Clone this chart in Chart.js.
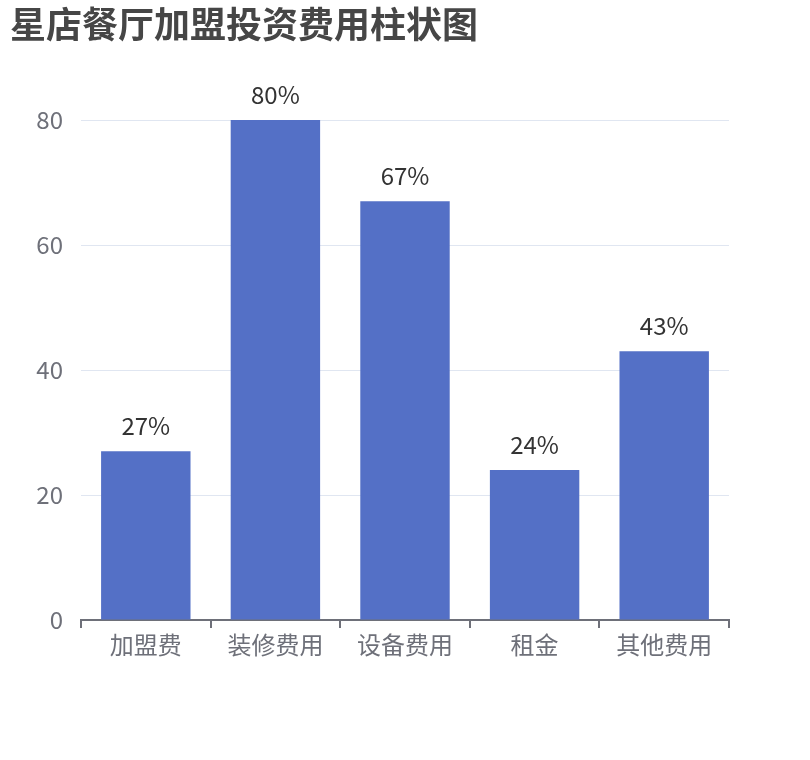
<!DOCTYPE html>
<html>
<head>
<meta charset="utf-8">
<script src="https://cdn.jsdelivr.net/npm/chart.js@4/dist/chart.umd.min.js"></script>
<style>
  html, body { margin: 0; padding: 0; background: #fff; }
  #wrap { width: 810px; height: 760px; }
</style>
</head>
<body>
<div id="wrap"><canvas id="bar-chart" width="810" height="760"></canvas></div>
<script>
// ── DATA ───────────────────────────────────────
const categories = ['加盟费', '装修费用', '设备费用', '租金', '其他费用'];
const percentValues = [27, 80, 67, 24, 43];
const yTicks = [0, 20, 40, 60, 80];
const chartTitle = '星店餐厅加盟投资费用柱状图';

const FONT = "'Noto Sans CJK SC', 'Noto Sans', sans-serif";
const AXIS_CLR = '#6E7079';

// Percent labels above each bar
const barLabels = {
  id: 'barLabels',
  afterDatasetsDraw(chart) {
    const { ctx } = chart;
    const meta = chart.getDatasetMeta(0);
    ctx.save();
    ctx.font = '24px ' + FONT;
    ctx.fillStyle = '#333';
    ctx.textAlign = 'center';
    ctx.textBaseline = 'middle';
    meta.data.forEach((bar, i) => {
      ctx.fillText(percentValues[i] + '%', bar.x, bar.y - 25);
    });
    ctx.restore();
  }
};

new Chart(document.getElementById('bar-chart').getContext('2d'), {
  type: 'bar',
  data: {
    labels: categories,
    datasets: [{
      data: percentValues,
      backgroundColor: '#5470C6',
      borderWidth: 0,
      barPercentage: 0.69,
      categoryPercentage: 1
    }]
  },
  options: {
    responsive: false,
    animation: false,
    layout: { padding: { top: 3, left: 10, right: 81, bottom: 0 } },
    plugins: {
      legend: { display: false },
      tooltip: { enabled: false },
      title: {
        display: true,
        text: chartTitle,
        align: 'start',
        color: '#464646',
        font: { size: 36, weight: 'bold', family: FONT, lineHeight: 1.2 },
        padding: { top: 0, bottom: 73.8 }
      }
    },
    scales: {
      x: {
        border: { display: true, color: AXIS_CLR, width: 2 },
        grid: { drawOnChartArea: false, drawTicks: true, tickLength: 8, lineWidth: 2, color: AXIS_CLR, offset: true },
        ticks: { color: AXIS_CLR, font: { size: 24, family: FONT }, padding: 2 },
        afterFit(scale) { scale.height = 140; }
      },
      y: {
        min: 0,
        max: 80,
        border: { display: false },
        grid: { color: '#E0E6F1', drawTicks: false },
        afterBuildTicks(scale) { scale.ticks = yTicks.map(v => ({ value: v })); },
        ticks: { color: AXIS_CLR, font: { size: 24, family: FONT }, padding: 18 },
        afterFit(scale) { scale.width = 71; }
      }
    }
  },
  plugins: [barLabels]
});
</script>
</body>
</html>
